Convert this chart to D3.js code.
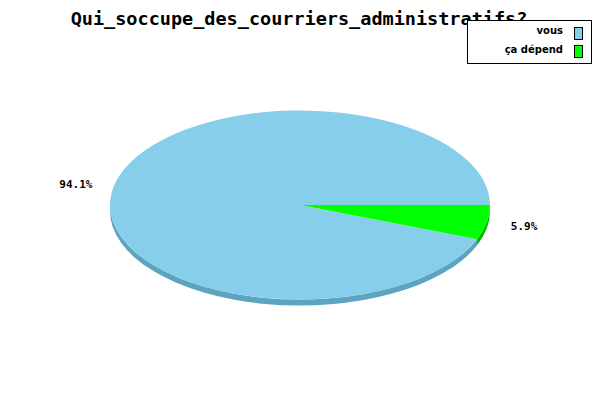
<!DOCTYPE html>
<html>
<head>
<meta charset="utf-8">
<script src="https://cdn.jsdelivr.net/npm/d3@7"></script>
<style>
  body { margin: 0; background: #fff; }
  svg { display: block; }
</style>
</head>
<body>
<svg width="600" height="400"></svg>
<script>
const title = 'Qui_soccupe_des_courriers_administratifs?';
const categories = ['vous', 'ça dépend'];
const values = [94.1, 5.9];
const colors = ['#87ceeb', '#00ff00'];
const sideColors = ['#5ca4c0', '#00b400'];

const svg = d3.select('svg');
const cx = 300, cy = 205, rx = 190, ry = 94.5, depth = 6;

svg.append('text')
    .attr('x', 299).attr('y', 25)
    .attr('text-anchor', 'middle')
    .style('font-family', 'DejaVu Sans Mono, monospace')
    .style('font-weight', 'bold')
    .style('font-size', '18.5px')
    .text(title);

const total = d3.sum(values);
const start = Math.PI / 2 + 2 * Math.PI * values[1] / total;
const pie = d3.pie().sort(null).startAngle(start).endAngle(start + 2 * Math.PI);
const arcs = pie(values);

const pt = (a, dy = 0) => [cx + rx * Math.sin(a), cy + dy - ry * Math.cos(a)];

const g = svg.append('g');

// side walls (visible front half: d3 angles between pi/2 and 3pi/2)
arcs.forEach((d, i) => {
    [0, 2 * Math.PI, -2 * Math.PI].forEach(shift => {
        const a0 = Math.max(d.startAngle, Math.PI / 2 + shift);
        const a1 = Math.min(d.endAngle, 3 * Math.PI / 2 + shift);
        if (a1 <= a0) return;
        const p0 = pt(a0), p1 = pt(a1), q1 = pt(a1, depth), q0 = pt(a0, depth);
        const large = (a1 - a0) > Math.PI ? 1 : 0;
        g.append('path')
            .attr('fill', sideColors[i])
            .attr('d', `M${p0}A${rx},${ry} 0 ${large} 1 ${p1}L${q1}A${rx},${ry} 0 ${large} 0 ${q0}Z`);
    });
});

// top faces
g.selectAll('path.top')
    .data(arcs).enter()
    .append('path')
    .attr('class', 'top')
    .attr('fill', (d, i) => colors[i])
    .attr('d', d => {
        const p0 = pt(d.startAngle), p1 = pt(d.endAngle);
        const large = (d.endAngle - d.startAngle) > Math.PI ? 1 : 0;
        return `M${cx},${cy}L${p0}A${rx},${ry} 0 ${large} 1 ${p1}Z`;
    });

// percentage labels
svg.selectAll('text.pct')
    .data(arcs).enter()
    .append('text')
    .attr('class', 'pct')
    .attr('x', d => cx + 1.2 * rx * Math.sin((d.startAngle + d.endAngle) / 2))
    .attr('y', d => cy + 4 - 1.2 * ry * Math.cos((d.startAngle + d.endAngle) / 2))
    .attr('text-anchor', 'middle')
    .style('font-family', 'DejaVu Sans Mono, monospace')
    .style('font-weight', 'bold')
    .style('font-size', '11px')
    .text(d => (d.value / total * 100).toFixed(1) + '%');

// legend
const legend = svg.append('g').attr('shape-rendering', 'crispEdges');
legend.append('rect')
    .attr('x', 467.5).attr('y', 20.5).attr('width', 124).attr('height', 43)
    .attr('fill', '#fff').attr('stroke', '#000');
categories.forEach((c, i) => {
    legend.append('text')
        .attr('x', 563).attr('y', 34 + i * 19)
        .attr('text-anchor', 'end')
        .style('font-family', 'DejaVu Sans, sans-serif')
        .style('font-weight', 'bold')
        .style('font-size', '10px')
        .text(c);
    legend.append('rect')
        .attr('x', 574.5).attr('y', 27.5 + i * 18).attr('width', 8).attr('height', 12)
        .attr('fill', colors[i]).attr('stroke', '#000');
});
</script>
</body>
</html>
